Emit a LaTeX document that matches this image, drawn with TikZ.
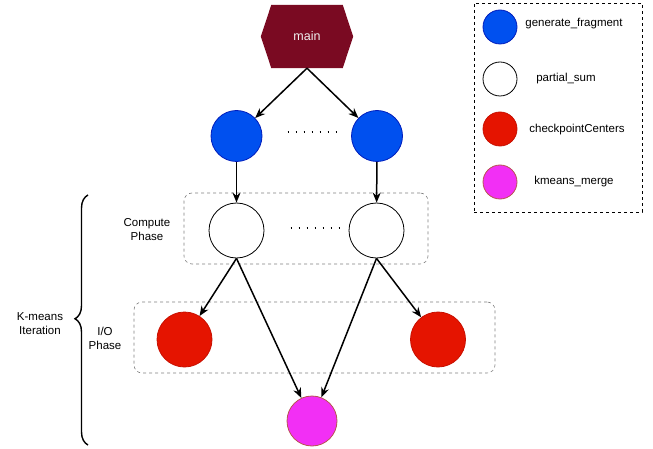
\documentclass[tikz,border=0pt]{standalone}
\usepackage{fontspec}
\setmainfont{Liberation Sans}
\usetikzlibrary{arrows.meta,backgrounds,decorations.pathreplacing,calc}
\definecolor{hexred}{HTML}{7A0A22}
\definecolor{nblue}{HTML}{0050EF}
\definecolor{nblueD}{HTML}{001DBC}
\definecolor{nred}{HTML}{E51400}
\definecolor{nredD}{HTML}{C81000}
\definecolor{nmag}{HTML}{F22FF5}
\definecolor{nmagD}{HTML}{B85450}
\begin{document}
\begin{tikzpicture}[x=1pt,y=-1pt,
  font=\fontsize{11.5}{14}\selectfont,
  circ/.style={circle, draw, line width=0.8pt, minimum size=#1, inner sep=0pt},
  circ/.default=52pt,
  bluec/.style={circ=#1, fill=nblue, draw=nblueD},
  bluec/.default=51pt,
  whitec/.style={circ=#1, fill=white, draw=black},
  whitec/.default=55pt,
  redc/.style={circ=#1, fill=nred, draw=nredD},
  redc/.default=55pt,
  magc/.style={circ=#1, fill=nmag, draw=nmagD},
  magc/.default=50pt,
  arr/.style={-{Stealth[length=10pt,width=8pt]}, line width=1.5pt},
  phasebox/.style={draw=gray, dashed, rounded corners=8pt, line width=0.6pt, inner sep=0pt},
  legendbox/.style={draw=black, dashed, line width=0.6pt, inner sep=0pt},
  dots/.style={line width=1.4pt, dash pattern=on 1.4pt off 6.6pt},
  lbl/.style={align=center, inner sep=0pt}
]
\useasboundingbox (0,0) rectangle (653,449);

% phase boxes
\node[phasebox, minimum width=244pt, minimum height=71pt] (cbox) at (306,228.5) {};
\node[phasebox, minimum width=361pt, minimum height=71pt] (iobox) at (314.5,337.5) {};
% legend box
\node[legendbox, minimum width=168pt, minimum height=209pt] (legend) at (558,107.5) {};

% main hexagon
\node[minimum width=92pt, minimum height=63pt, inner sep=0pt, text=white!88!gray, font=\fontsize{12.5}{15}\selectfont] (main) at (307,36.5) {main};
\begin{scope}[on background layer]
\fill[hexred] ([xshift=10.5pt]main.north west) -- ([xshift=-10.5pt]main.north east) -- (main.east)
  -- ([xshift=-10.5pt]main.south east) -- ([xshift=10.5pt]main.south west) -- (main.west) -- cycle;
\end{scope}

% nodes
\node[bluec] (b1) at (236.5,136) {};
\node[bluec] (b2) at (377,136) {};
\node[whitec] (w1) at (236.5,230.5) {};
\node[whitec] (w2) at (376.5,230.5) {};
\node[redc] (r1) at (184.5,339.5) {};
\node[redc] (r2) at (438,339.5) {};
\node[magc] (m) at (312,421) {};

% dots
\draw[dots] (287.5,132) -- (340,132);
\draw[dots] (290.5,228) -- (343,228);

% labels
\node[lbl] (ctext) at (147,229.5) {Compute\\Phase};
\node[lbl] (iotext) at (105,338) {I/O\\Phase};
\node[lbl] (ktext) at (40,323.5) {K-means\\Iteration};

% brace
\draw[line width=1.4pt, decorate, decoration={brace, amplitude=13pt, aspect=0.505}] (88,445) -- (88,195);

% arrows
\draw[arr] (main.south) -- (b1);
\draw[arr] (main.south) -- (b2);
\draw[arr] (b1) -- (w1);
\draw[arr] (b2) -- (w2);
\draw[arr] (w1.south) -- (r1);
\draw[arr] (w1.south) -- (m);
\draw[arr] (w2.south) -- (m);
\draw[arr] (w2.south) -- (r2);

% legend
\node[bluec=34pt] (lb) at (500,27) {};
\node[whitec=34pt] (lw) at (500,79) {};
\node[redc=34pt] (lr) at (500,129) {};
\node[magc=34pt] (lm) at (500,182) {};
\node[lbl] (tb) at (574,24) {generate\_fragment};
\node[lbl] (tw) at (566,79) {partial\_sum};
\node[lbl] (tr) at (577,129.5) {checkpointCenters};
\node[lbl] (tm) at (574,181.5) {kmeans\_merge};
\end{tikzpicture}
\end{document}
